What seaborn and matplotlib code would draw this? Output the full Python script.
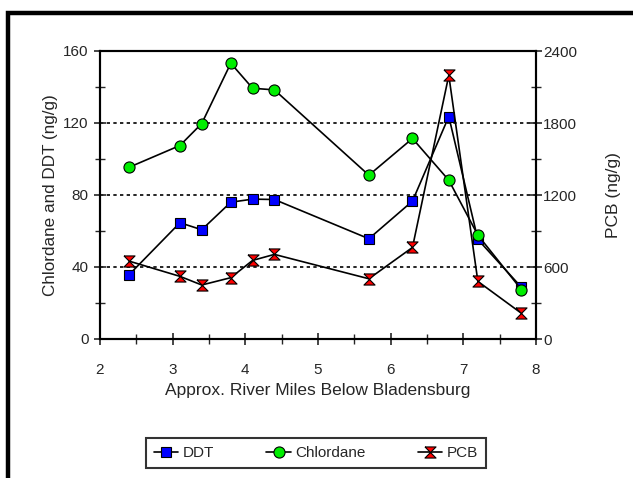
import numpy as np
import pandas as pd
import seaborn as sns
import matplotlib.pyplot as plt
from matplotlib.ticker import MultipleLocator
from matplotlib.patches import Rectangle

# data
miles = [2.4, 3.1, 3.4, 3.8, 4.1, 4.4, 5.7, 6.3, 6.8, 7.2, 7.8]
ddt = [35.7, 64.6, 60.7, 76.0, 77.7, 77.5, 55.7, 76.6, 123.6, 55.3, 28.7]
chlordane = [95.4, 107.5, 119.7, 153.2, 139.3, 138.4, 91.0, 111.4, 88.2, 57.7, 27.4]
pcb = [649, 522, 450, 511, 655, 705, 502, 763, 2197, 480, 214]

df = pd.DataFrame({"miles": miles, "DDT": ddt, "Chlordane": chlordane, "PCB": pcb})

sns.set_style("white")
plt.rcParams['font.family'] = ['Liberation Sans', 'DejaVu Sans']
plt.rcParams['font.size'] = 11

fig = plt.figure(figsize=(6.33, 4.78), dpi=100)
ax = fig.add_axes([100 / 633, 1 - 339 / 478, 436 / 633, 288 / 478])
ax2 = ax.twinx()

# hourglass marker for PCB
hourglass = [(-1, 1), (1, 1), (-1, -1), (1, -1), (-1, 1)]

sns.lineplot(data=df, x="miles", y="DDT", ax=ax, color="black", lw=1.2,
             marker="s", ms=7.5, markerfacecolor="#0000ff", markeredgecolor="black",
             markeredgewidth=0.8, label="DDT", legend=False)
sns.lineplot(data=df, x="miles", y="Chlordane", ax=ax, color="black", lw=1.2,
             marker="o", ms=8, markerfacecolor="#00ee00", markeredgecolor="black",
             markeredgewidth=0.8, label="Chlordane", legend=False)
sns.lineplot(data=df, x="miles", y="PCB", ax=ax2, color="black", lw=1.2,
             marker=hourglass, ms=8, markerfacecolor="#ff0000", markeredgecolor="black",
             markeredgewidth=0.8, label="PCB", legend=False)

ax.set_xlim(2, 8)
ax.set_ylim(0, 160)
ax2.set_ylim(0, 2400)

ax.xaxis.set_major_locator(MultipleLocator(1))
ax.xaxis.set_minor_locator(MultipleLocator(0.5))
ax.yaxis.set_major_locator(MultipleLocator(40))
ax.yaxis.set_minor_locator(MultipleLocator(20))
ax2.yaxis.set_major_locator(MultipleLocator(600))
ax2.yaxis.set_minor_locator(MultipleLocator(300))

for a in (ax, ax2):
    a.tick_params(which="major", direction="inout", length=8.5, width=1.2, labelsize=11)
    a.tick_params(which="minor", direction="inout", length=7, width=1.0)
    for s in a.spines.values():
        s.set_color("black")
        s.set_linewidth(1.5)
ax.tick_params(axis="x", which="both", bottom=True)
ax.tick_params(axis="x", which="major", pad=13)
ax.tick_params(axis="y", which="both", left=True)
ax.tick_params(axis="y", which="major", pad=4)
ax2.tick_params(axis="y", which="both", right=True)
ax2.tick_params(axis="y", which="major", pad=1)

# dotted gridlines at inner major ticks
for yv in [40, 80, 120]:
    ax.axhline(yv, color="black", ls=(0, (2, 2)), lw=1.2, zorder=0)

ax.set_xlabel("Approx. River Miles Below Bladensburg", fontsize=12.5, labelpad=4)
ax.set_ylabel("Chlordane and DDT (ng/g)", fontsize=12.3, labelpad=3.5)
ax2.set_ylabel("PCB (ng/g)", fontsize=12.5, labelpad=21)

h1, l1 = ax.get_legend_handles_labels()
h2, l2 = ax2.get_legend_handles_labels()
leg = fig.legend(h1 + h2, l1 + l2, loc="center", bbox_to_anchor=(316 / 633, 1 - 453 / 478),
                 ncol=3, frameon=True, fancybox=False, fontsize=11,
                 handlelength=1.6, handletextpad=0.3, columnspacing=3.4,
                 borderpad=0.5)
leg.get_frame().set_edgecolor("black")
leg.get_frame().set_linewidth(1.5)

# outer frame
fig.add_artist(Rectangle((8 / 633, -0.2), 1.2, 1.2 - 13 / 478, transform=fig.transFigure,
                         fill=False, edgecolor="black", lw=3.2))

fig.savefig("out.png", dpi=100)
